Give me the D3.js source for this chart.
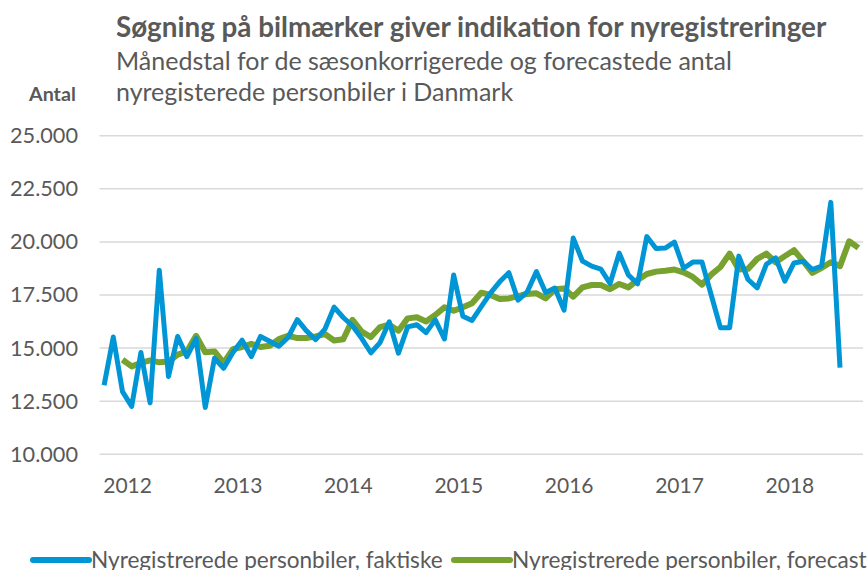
<!DOCTYPE html>
<html>
<head>
<meta charset="utf-8">
<script src="https://cdn.jsdelivr.net/npm/d3@7"></script>
<style>
  body { margin: 0; background: #fff; }
  text { font-family: Lato, "Open Sans", sans-serif; fill: #595959; }
</style>
</head>
<body>
<div class="chart"></div>
<script>
// months from nov 2011 to sep 2018
const months = d3.timeMonth.range(new Date(2011, 10, 1), new Date(2018, 9, 1)).map(d3.timeFormat('%Y-%m'));
const yearTicks = ['2012-01', '2013-01', '2014-01', '2015-01', '2016-01', '2017-01', '2018-01'];
const yTicks = [10000, 12500, 15000, 17500, 20000, 22500, 25000];

// actual registrations (nov 2011 - jul 2018)
const faktiske = [13250, 15520, 12950, 12260, 14790, 12420, 18670, 13660, 15550, 14600,
  15450, 12210, 14520, 14050, 14790, 15370, 14600, 15550, 15320, 15090,
  15500, 16340, 15810, 15400, 15890, 16930, 16440, 16050, 15460, 14780,
  15260, 16240, 14760, 16000, 16100, 15730, 16330, 15430, 18440, 16500,
  16300, 16950, 17590, 18120, 18550, 17260, 17650, 18600, 17620, 17830,
  16790, 20180, 19100, 18860, 18720, 18040, 19470, 18440, 18030, 20250,
  19690, 19710, 19990, 18760, 19050, 19050, 17500, 15960, 15960, 19330,
  18230, 17840, 18950, 19250, 18150, 19010, 19090, 18700, 18860, 21860,
  14080, null, null];

// forecast (jan 2012 - sep 2018)
const forecast = [null, null, 14450, 14140, 14300, 14420, 14330, 14370, 14690, 14840,
  15580, 14800, 14840, 14300, 14950, 15050, 15200, 15050, 15110, 15420,
  15580, 15470, 15470, 15550, 15660, 15360, 15420, 16330, 15780, 15520,
  15990, 16100, 15820, 16400, 16450, 16250, 16560, 16920, 16760, 16920,
  17110, 17610, 17500, 17310, 17340, 17450, 17550, 17580, 17340, 17770,
  17810, 17420, 17860, 17970, 17970, 17770, 18020, 17860, 18210, 18490,
  18600, 18640, 18700, 18570, 18350, 17990, 18460, 18820, 19450, 18700,
  18730, 19200, 19450, 19040, 19330, 19610, 19090, 18540, 18780, 19040,
  18860, 20030, 19720];

const seriesNames = ['Nyregistrerede personbiler, faktiske', 'Nyregistrerede personbiler, forecast'];
const colors = ['#0096d6', '#78a22f'];

const width = 867, height = 570;
const margin = {top: 135.7, right: 4, bottom: 115.7, left: 99.5};

const svg = d3.select('.chart')
  .append('svg')
  .attr('width', width)
  .attr('height', height);

const x = d3.scalePoint()
  .domain(months)
  .range([margin.left, width - margin.right])
  .padding(0.5);

const y = d3.scaleLinear()
  .domain([10000, 25000])
  .range([height - margin.bottom, margin.top]);

const dk = d3.formatLocale({decimal: ',', thousands: '.', grouping: [3], currency: ['', ' kr.']});

// gridlines
svg.append('g')
  .selectAll('line')
  .data(yTicks)
  .join('line')
  .attr('x1', margin.left)
  .attr('x2', width - margin.right)
  .attr('y1', d => y(d))
  .attr('y2', d => y(d))
  .attr('stroke', '#d9d9d9')
  .attr('stroke-width', 1.5);

// y axis
const yAxis = svg.append('g')
  .attr('transform', `translate(78,0)`)
  .call(d3.axisLeft(y).tickValues(yTicks).tickFormat(dk.format(',')).tickSize(0).tickPadding(0));
yAxis.select('.domain').remove();
yAxis.selectAll('text')
  .style('font-family', 'Lato')
  .style('font-size', '21.7px')
  .attr('fill', '#595959');

// x axis, labels sit half a month right of january
const xAxis = svg.append('g')
  .attr('transform', `translate(${x.step() / 2},${height - margin.bottom + 21})`)
  .call(d3.axisBottom(x).tickValues(yearTicks).tickFormat(d => d.slice(0, 4)).tickSize(0));
xAxis.select('.domain').remove();
xAxis.selectAll('text')
  .style('font-family', 'Lato')
  .style('font-size', '21px')
  .attr('fill', '#595959');

// lines
const line = d3.line()
  .defined(d => d[1] !== null)
  .x(d => x(d[0]))
  .y(d => y(d[1]));

svg.append('path')
  .datum(months.map((m, i) => [m, forecast[i]]))
  .attr('fill', 'none')
  .attr('stroke', colors[1])
  .attr('stroke-width', 6)
  .attr('stroke-linejoin', 'round')
  .attr('d', line);

svg.append('path')
  .datum(months.map((m, i) => [m, faktiske[i]]))
  .attr('fill', 'none')
  .attr('stroke', colors[0])
  .attr('stroke-width', 5)
  .attr('stroke-linejoin', 'round')
  .attr('d', line);

// titles
svg.append('text')
  .attr('x', 116)
  .attr('y', 37)
  .style('font-weight', 'bold')
  .style('font-size', '27.8px')
  .text('Søgning på bilmærker giver indikation for nyregistreringer');

svg.append('text')
  .attr('x', 116)
  .attr('y', 70)
  .style('font-size', '25px')
  .text('Månedstal for de sæsonkorrigerede og forecastede antal');

svg.append('text')
  .attr('x', 116)
  .attr('y', 101)
  .style('font-size', '25px')
  .text('nyregisterede personbiler i Danmark');

svg.append('text')
  .attr('x', 29)
  .attr('y', 101)
  .style('font-weight', 'bold')
  .style('font-size', '19.7px')
  .text('Antal');

// legend
const legendX = [33, 454];
const legend = svg.selectAll('.legend')
  .data(seriesNames)
  .join('g')
  .attr('class', 'legend')
  .attr('transform', (d, i) => `translate(${legendX[i]},560)`);

legend.append('line')
  .attr('x1', 0)
  .attr('x2', 56)
  .attr('stroke', (d, i) => colors[i])
  .attr('stroke-width', 6)
  .attr('stroke-linecap', 'round');

legend.append('text')
  .attr('x', 58)
  .attr('y', 8)
  .style('font-size', '22.6px')
  .text(d => d);
</script>
</body>
</html>
